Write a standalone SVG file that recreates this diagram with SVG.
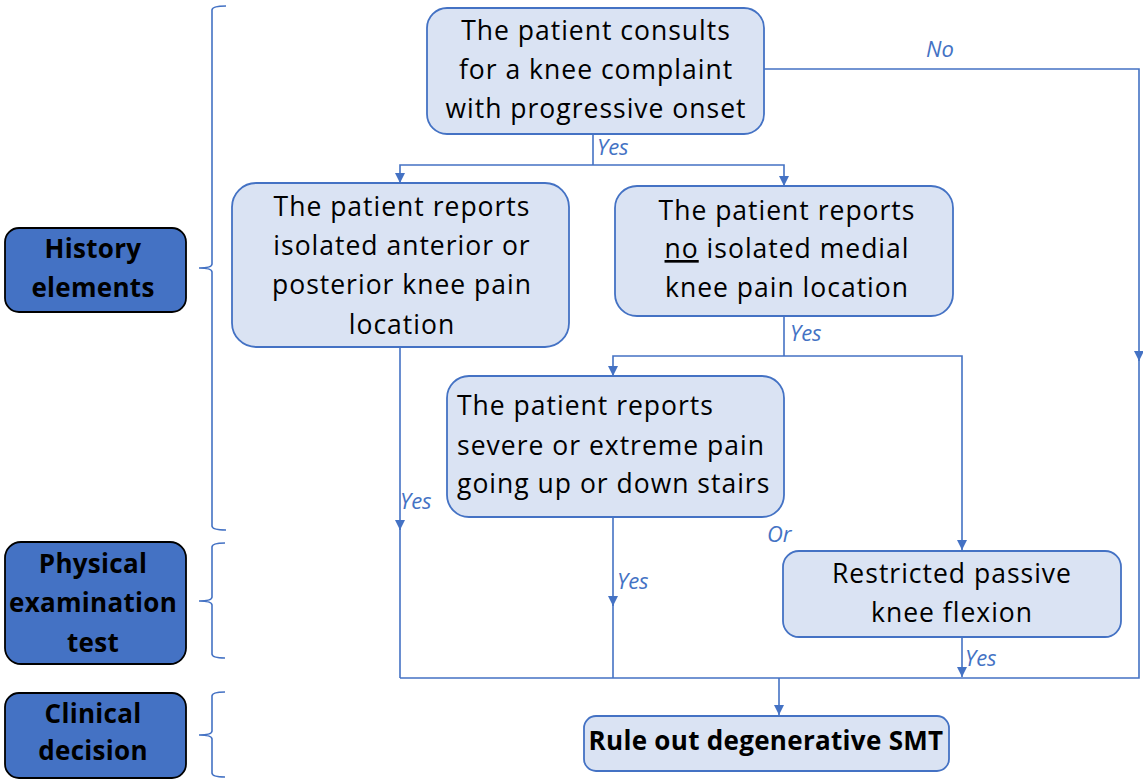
<svg xmlns="http://www.w3.org/2000/svg" width="1143" height="783" viewBox="0 0 1143 783">
  <defs>
    <marker id="arr" viewBox="0 0 10 10" refX="10" refY="5" markerWidth="10" markerHeight="10" markerUnits="userSpaceOnUse" orient="auto">
      <path d="M0,0 L10,5 L0,10 z" fill="#4472C4"/>
    </marker>
    <style>
      .box { fill: #DAE3F3; stroke: #4472C4; stroke-width: 1.8; }
      .cat { fill: #4472C4; stroke: #000; stroke-width: 1.8; }
      .t { font-family: "Open Sans", Lato, sans-serif; font-size: 26.5px; letter-spacing: 1px; fill: #000; }
      .tb { font-family: "Open Sans", Lato, sans-serif; font-size: 26px; letter-spacing: 0.3px; font-weight: bold; fill: #000; }
      .lbl { font-family: "Open Sans", Lato, sans-serif; font-style: italic; font-size: 22px; fill: #4472C4; }
      .line { fill: none; stroke: #4472C4; stroke-width: 1.6; }
      .brace { fill: none; stroke: #4472C4; stroke-width: 1.6; }
    </style>
  </defs>

  <!-- category labels on the left -->
  <g id="cat-history">
    <rect class="cat" x="5" y="228" width="181" height="84" rx="14"/>
    <text class="tb" text-anchor="middle" x="93" y="258">History</text>
    <text class="tb" text-anchor="middle" x="93" y="297">elements</text>
  </g>
  <g id="cat-physical">
    <rect class="cat" x="5" y="542" width="181" height="122" rx="16"/>
    <text class="tb" text-anchor="middle" x="93" y="573">Physical</text>
    <text class="tb" text-anchor="middle" x="93" y="612">examination</text>
    <text class="tb" text-anchor="middle" x="93" y="652">test</text>
  </g>
  <g id="cat-clinical">
    <rect class="cat" x="5" y="693" width="181" height="85" rx="14"/>
    <text class="tb" text-anchor="middle" x="93" y="723">Clinical</text>
    <text class="tb" text-anchor="middle" x="93" y="760">decision</text>
  </g>

  <!-- braces grouping each stage -->
  <g id="braces">
    <path class="brace" d="M226,6 Q212,6 212,10 L212,264 Q212,268 199,268 Q212,268 212,272 L212,526 Q212,530 226,530"/>
    <path class="brace" d="M225,543 Q212,543 212,547 L212,597 Q212,601 199,601 Q212,601 212,605 L212,654 Q212,658 225,658"/>
    <path class="brace" d="M225,692 Q212,692 212,696 L212,731 Q212,735 199,735 Q212,735 212,739 L212,773 Q212,777 225,777"/>
  </g>

  <!-- connectors -->
  <g id="connectors">
    <path class="line" d="M593,134 L593,165"/>
    <path class="line" d="M593,165 L400,165 L400,183" marker-end="url(#arr)"/>
    <path class="line" d="M593,165 L784,165 L784,186" marker-end="url(#arr)"/>
    <path class="line" d="M764,69 L1139,69 L1139,361" marker-end="url(#arr)"/>
    <path class="line" d="M1139,355 L1139,678 L400,678"/>
    <path class="line" d="M400,347 L400,530" marker-end="url(#arr)"/>
    <path class="line" d="M400,525 L400,678"/>
    <path class="line" d="M784,316 L784,356"/>
    <path class="line" d="M784,356 L613,356 L613,376" marker-end="url(#arr)"/>
    <path class="line" d="M784,356 L962,356 L962,550" marker-end="url(#arr)"/>
    <path class="line" d="M613,517 L613,606" marker-end="url(#arr)"/>
    <path class="line" d="M613,600 L613,678"/>
    <path class="line" d="M962,637 L962,677" marker-end="url(#arr)"/>
    <path class="line" d="M779,678 L779,715" marker-end="url(#arr)"/>
    <text class="lbl" x="597" y="155" font-size="14">Yes</text>
    <text class="lbl" x="926" y="57">No</text>
    <text class="lbl" x="790" y="341">Yes</text>
    <text class="lbl" x="400" y="509">Yes</text>
    <text class="lbl" x="617" y="589">Yes</text>
    <text class="lbl" x="767" y="542">Or</text>
    <text class="lbl" x="965" y="666">Yes</text>
  </g>

  <g id="n-consult">
    <rect class="box" x="427" y="8" width="337" height="126" rx="20"/>
    <text class="t" text-anchor="middle" x="596" y="40">The patient consults</text>
    <text class="t" text-anchor="middle" x="596" y="79">for a knee complaint</text>
    <text class="t" text-anchor="middle" x="596" y="118">with progressive onset</text>
  </g>
  <g id="n-anterior">
    <rect class="box" x="232" y="183" width="337" height="164" rx="24"/>
    <text class="t" text-anchor="middle" x="402" y="216">The patient reports</text>
    <text class="t" text-anchor="middle" x="402" y="255">isolated anterior or</text>
    <text class="t" text-anchor="middle" x="402" y="294">posterior knee pain</text>
    <text class="t" text-anchor="middle" x="402" y="334">location</text>
  </g>
  <g id="n-medial">
    <rect class="box" x="615" y="186" width="338" height="130" rx="22"/>
    <text class="t" text-anchor="middle" x="787" y="220">The patient reports</text>
    <text class="t" text-anchor="middle" x="787" y="258"><tspan text-decoration="underline">no</tspan> isolated medial</text>
    <text class="t" text-anchor="middle" x="787" y="297">knee pain location</text>
  </g>
  <g id="n-stairs">
    <rect class="box" x="447" y="376" width="337" height="141" rx="22"/>
    <text class="t" x="457" y="415">The patient reports</text>
    <text class="t" x="457" y="455">severe or extreme pain</text>
    <text class="t" x="457" y="493">going up or down stairs</text>
  </g>
  <g id="n-flexion">
    <rect class="box" x="783" y="551" width="338" height="86" rx="16"/>
    <text class="t" text-anchor="middle" x="952" y="583">Restricted passive</text>
    <text class="t" text-anchor="middle" x="952" y="622">knee flexion</text>
  </g>
  <g id="n-ruleout">
    <rect class="box" x="584" y="716" width="365" height="55" rx="12"/>
    <text class="tb" text-anchor="middle" x="766" y="750">Rule out degenerative SMT</text>
  </g>
</svg>
